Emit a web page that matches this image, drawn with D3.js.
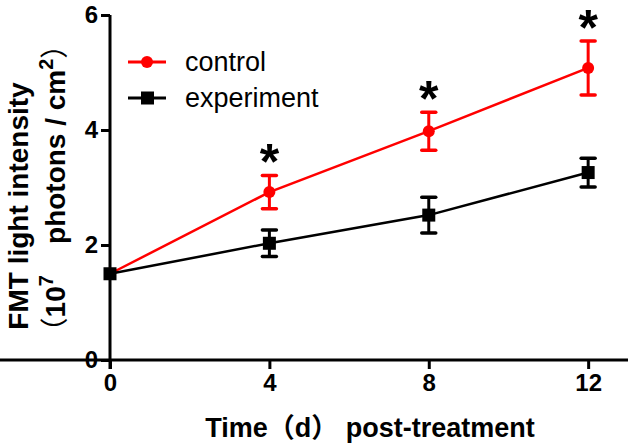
<!DOCTYPE html>
<html><head><meta charset="utf-8">
<script src="https://cdn.jsdelivr.net/npm/d3@7"></script>
<style>
html,body{margin:0;padding:0;background:#fff;}
text{font-family:Arial,"Liberation Sans",Helvetica,"Noto Sans CJK SC",sans-serif;}
.tick text{font-size:24px !important;font-weight:bold;fill:#000;}
</style></head>
<body><svg id="c" width="636" height="447"></svg>
<script>
const days = [0, 4, 8, 12];
const controlMean = [1.5, 2.92, 3.98, 5.08];
const controlErr  = [0.05, 0.29, 0.33, 0.47];
const experimentMean = [1.5, 2.03, 2.52, 3.26];
const experimentErr  = [0.05, 0.23, 0.31, 0.25];
const significant = [4, 8, 12];
const yTicks = [0, 2, 4, 6];
const xTicks = [0, 4, 8, 12];

const svg = d3.select("#c");
const x = d3.scaleLinear().domain([0, 13]).range([110, 628]);
const y = d3.scaleLinear().domain([0, 6]).range([360, 15]);

const yAxis = svg.append("g").attr("transform","translate(110,0)")
  .call(d3.axisLeft(y).tickValues(yTicks).tickSize(9).tickPadding(3).tickFormat(d3.format("d")));
const xAxis = svg.append("g").attr("transform","translate(0,360)")
  .call(d3.axisBottom(x).tickValues(xTicks).tickSize(9).tickPadding(5).tickFormat(d3.format("d")));
[yAxis, xAxis].forEach(a=>{
  a.attr("font-size",24).attr("font-family","Arial, 'Liberation Sans', sans-serif");
  a.select(".domain").attr("stroke","#000").attr("stroke-width",3);
  a.selectAll(".tick line").attr("stroke","#000").attr("stroke-width",3);
  a.selectAll(".tick text").attr("fill","#000").attr("font-size",24).attr("font-weight","bold");
});
yAxis.select(".domain").attr("d","M0,"+y(6)+"V"+(y(0)+9));
xAxis.select(".domain").attr("d","M-9,0H628");

const series = [
  {name:"control", color:"#ff0000", mean:controlMean, err:controlErr, shape:"circle"},
  {name:"experiment", color:"#000000", mean:experimentMean, err:experimentErr, shape:"square"}
];
const line = d3.line().x(d=>x(d[0])).y(d=>y(d[1]));

series.forEach(s=>{
  const pts = days.map((d,i)=>[d, s.mean[i], s.err[i]]);
  const g = svg.append("g");
  g.append("path").datum(pts).attr("d", line).attr("fill","none")
    .attr("stroke", s.color).attr("stroke-width", 2.5);
  pts.forEach(p=>{
    if (p[2] > 0.1) {
      g.append("line").attr("x1",x(p[0])).attr("x2",x(p[0]))
        .attr("y1",y(p[1]+p[2])).attr("y2",y(p[1]-p[2])).attr("stroke",s.color).attr("stroke-width",3);
      [p[1]+p[2], p[1]-p[2]].forEach(v=>{
        g.append("line").attr("x1",x(p[0])-7).attr("x2",x(p[0])+7)
          .attr("y1",y(v)).attr("y2",y(v)).attr("stroke",s.color).attr("stroke-width",3.5)
          .attr("stroke-linecap","round");
      });
    }
    if (s.shape==="circle") {
      g.append("circle").attr("cx",x(p[0])).attr("cy",y(p[1])).attr("r",6).attr("fill",s.color);
    } else {
      g.append("rect").attr("x",x(p[0])-6.5).attr("y",y(p[1])-6.5).attr("width",13).attr("height",13).attr("fill",s.color);
    }
  });
});

significant.forEach(d=>{
  const i = days.indexOf(d);
  const top = y(controlMean[i] + controlErr[i]);
  svg.append("text").attr("x", x(d)).attr("y", top - 23 + 27)
    .attr("text-anchor","middle").attr("font-size",50).attr("font-weight","bold")
    .attr("fill","#000").text("*");
});

series.forEach((s,i)=>{
  const ly = 62 + i*36;
  svg.append("line").attr("x1",128).attr("x2",166).attr("y1",ly).attr("y2",ly)
    .attr("stroke",s.color).attr("stroke-width",3);
  if (s.shape==="circle") svg.append("circle").attr("cx",147).attr("cy",ly).attr("r",6).attr("fill",s.color);
  else svg.append("rect").attr("x",141).attr("y",ly-6.5).attr("width",13).attr("height",13).attr("fill",s.color);
  svg.append("text").attr("x",185).attr("y",ly).attr("dy","0.35em").attr("font-size",27)
    .attr("fill","#000").text(s.name);
});

svg.append("text").attr("x",370).attr("y",437).attr("text-anchor","middle")
  .attr("font-size",27).attr("font-weight","bold").attr("fill","#000").text("Time（d） post-treatment");

svg.append("text").attr("transform","translate(28,206) rotate(-90)")
  .attr("text-anchor","middle").attr("font-size",28).attr("font-weight","bold").attr("fill","#000")
  .text("FMT light intensity");
const yt2 = svg.append("text").attr("transform","translate(65,188) rotate(-90)")
  .attr("text-anchor","middle").attr("font-size",28).attr("font-weight","bold").attr("fill","#000")
  .style("font-family","Arial, 'Liberation Sans', 'Noto Sans CJK SC', sans-serif");
yt2.append("tspan").style("font-family","'Noto Sans CJK SC'").style("font-weight","normal").text("（");
yt2.append("tspan").text("10");
yt2.append("tspan").attr("font-size",20).attr("dy",-12).text("7");
yt2.append("tspan").attr("dy",12).text("\u00a0\u00a0\u00a0\u00a0photons / cm");
yt2.append("tspan").attr("font-size",20).attr("dy",-12).text("2");
yt2.append("tspan").attr("dy",12).style("font-family","'Noto Sans CJK SC'").style("font-weight","normal").text("）");
</script></body></html>
